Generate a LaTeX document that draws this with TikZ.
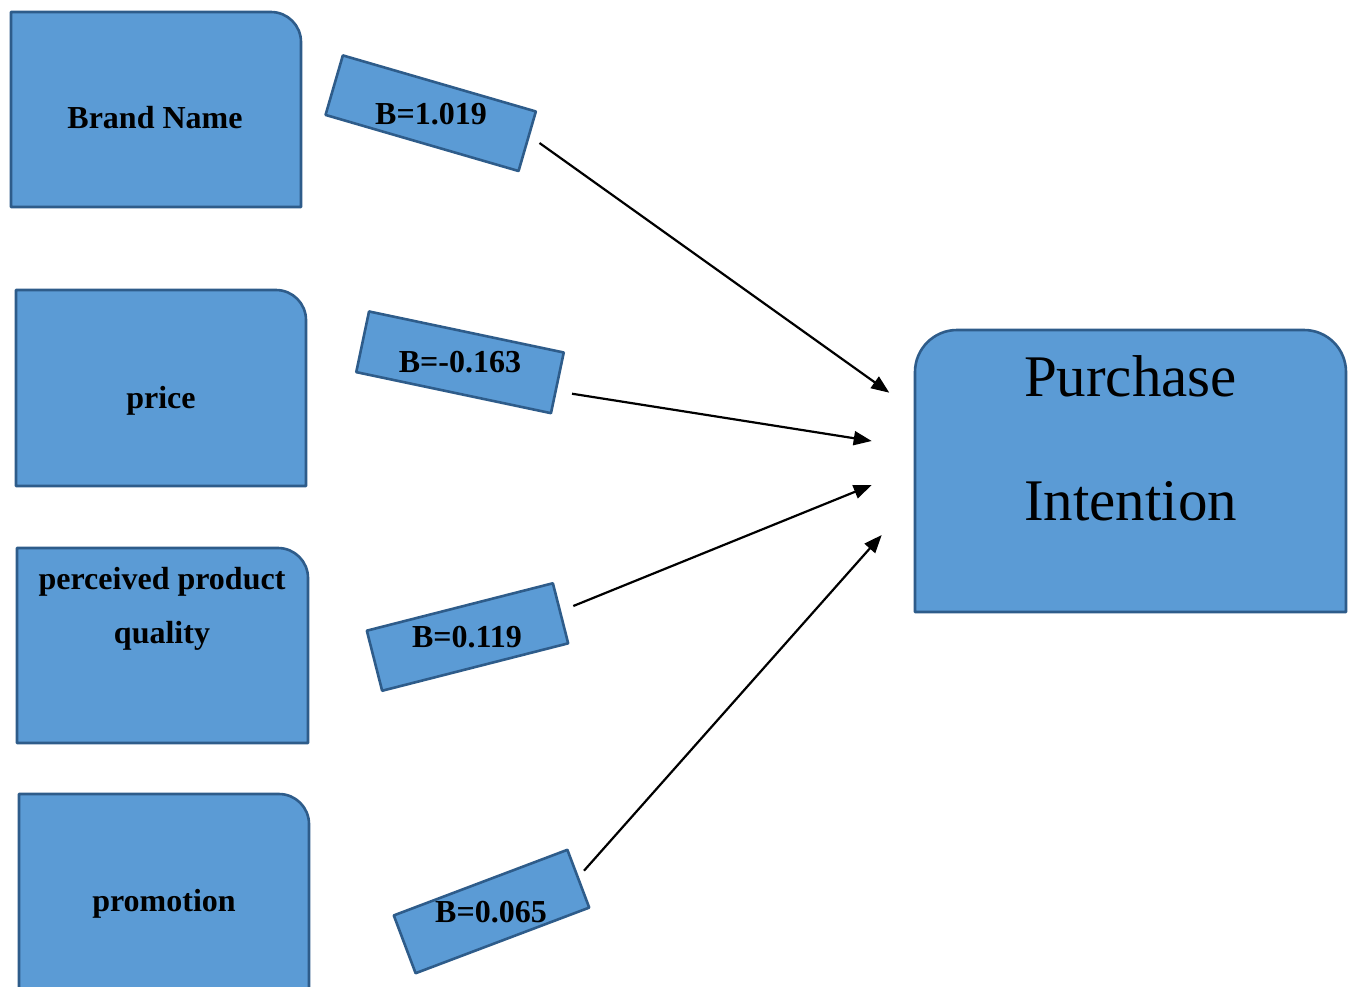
\documentclass[tikz,border=0pt]{standalone}
\usepackage{fontspec}
\setmainfont{Liberation Serif}
\usetikzlibrary{arrows.meta}
\definecolor{boxfill}{HTML}{5B9BD5}
\definecolor{boxline}{HTML}{2E5C8A}
\begin{document}
\begin{tikzpicture}[x=1pt,y=1pt,
  shapeline/.style={draw=boxline, fill=boxfill, line width=2.6pt, line join=round},
  coefbox/.style={shapeline, rectangle, inner sep=0pt, minimum height=62pt},
  boldlbl/.style={font=\bfseries\fontsize{32}{38}\selectfont, inner sep=0pt, anchor=base},
  biglbl/.style={font=\fontsize{59}{70}\selectfont, inner sep=0pt, anchor=base},
  link/.style={line width=2.2pt, -{Triangle[length=18pt,width=14pt]}}]
\useasboundingbox (0,0) rectangle (1354,-986);

% variable boxes (rounded top-right corner)
\draw[shapeline] (11,-207) -- (11,-12) -- (271,-12) arc[start angle=90,end angle=0,radius=30pt] -- (301,-207) -- cycle;
\draw[shapeline] (16,-486) -- (16,-290) -- (276,-290) arc[start angle=90,end angle=0,radius=30pt] -- (306,-486) -- cycle;
\draw[shapeline] (17,-743) -- (17,-548) -- (278,-548) arc[start angle=90,end angle=0,radius=30pt] -- (308,-743) -- cycle;
\draw[shapeline] (19,-1010) -- (19,-794) -- (279,-794) arc[start angle=90,end angle=0,radius=30pt] -- (309,-1010) -- cycle;

% outcome box
\draw[shapeline] (915,-612) -- (915,-372) arc[start angle=180,end angle=90,radius=42pt] -- (1304,-330) arc[start angle=90,end angle=0,radius=42pt] -- (1346,-612) -- cycle;

% box texts
\node[boldlbl] (brand) at (155,-128) {Brand Name};
\node[boldlbl] (price) at (161,-408) {price};
\node[boldlbl] (ppq1) at (162,-589.5) {perceived product};
\node[boldlbl] (ppq2) at (162,-643.5) {quality};
\node[boldlbl] (promo) at (164,-911) {promotion};
\node[biglbl] (pi1) at (1130.5,-396.5) {Purchase};
\node[biglbl] (pi2) at (1130.5,-520) {Intention};

% coefficient boxes
\node[coefbox, minimum width=201pt, rotate=-16.2] (r1) at (430.7,-113.2) {};
\node[coefbox, minimum width=199pt, rotate=-11.9] (r2) at (460,-362.3) {};
\node[coefbox, minimum width=192pt, rotate=14.3] (r3) at (467.5,-637) {};
\node[coefbox, minimum width=185.6pt, minimum height=61.8pt, rotate=20.7] (r4) at (491.5,-911.5) {};
\node[boldlbl] (t1) at (431,-124.3) {B=1.019};
\node[boldlbl] (t2) at (460,-372) {B=-0.163};
\node[boldlbl] (t3) at (467,-647) {B=0.119};
\node[boldlbl] (t4) at (491,-922) {B=0.065};

% arrows
\coordinate (a1s) at (539.5,-143);
\coordinate (a1e) at (889.3,-392.7);
\coordinate (a2s) at (572,-393.7);
\coordinate (a2e) at (871.7,-441);
\coordinate (a3s) at (573.3,-606);
\coordinate (a3e) at (871.7,-485);
\coordinate (a4s) at (584,-870.7);
\coordinate (a4e) at (881.7,-535);
\draw[link] (a1s) -- (a1e);
\draw[link] (a2s) -- (a2e);
\draw[link] (a3s) -- (a3e);
\draw[link] (a4s) -- (a4e);
\end{tikzpicture}
\end{document}
